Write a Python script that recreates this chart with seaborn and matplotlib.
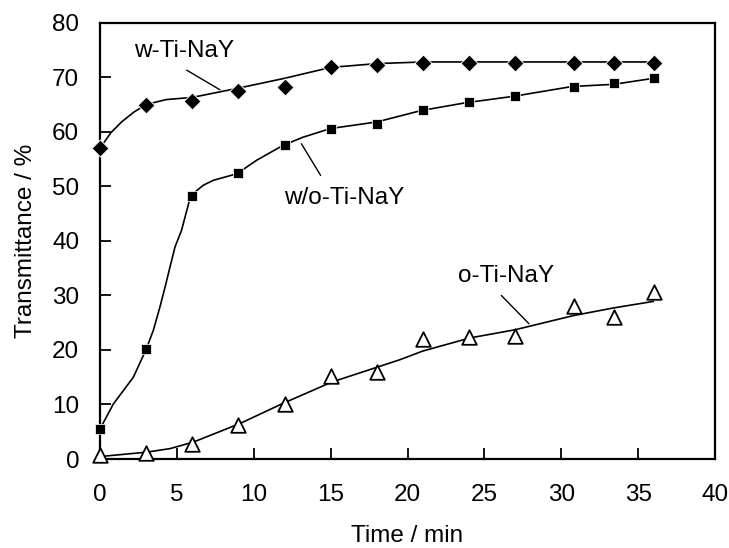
import matplotlib
matplotlib.use("Agg")
import matplotlib.pyplot as plt
import seaborn as sns
import pandas as pd

# measured points
tiempo = [0, 3, 6, 9, 12, 15, 18, 21, 24, 27, 30.8, 33.4, 36]
w_ti = [57.0, 65.0, 65.6, 67.4, 68.3, 71.8, 72.3, 72.7, 72.7, 72.7, 72.7, 72.7, 72.7]
wo_ti = [5.5, 20.1, 48.3, 52.4, 57.6, 60.5, 61.4, 64.0, 65.4, 66.6, 68.3, 69.0, 69.8]
o_ti = [0.7, 1.1, 2.8, 6.3, 10.0, 15.3, 15.9, 22.0, 22.3, 22.5, 28.0, 26.0, 30.7]

# fitted curves
curva_w_x = [0, 0.7, 1.4, 2.2, 3.0, 4.3, 6.0, 9.0, 12.0, 15.0, 18.0, 21.0, 24.0, 27.0, 30.8, 33.4, 36.0]
curva_w_y = [57.0, 59.8, 61.8, 63.6, 65.0, 65.9, 66.3, 68.0, 69.8, 71.8, 72.5, 72.8, 72.8, 72.8, 72.8, 72.8, 72.8]
curva_wo_x = [0, 0.87, 2.17, 3.0, 3.47, 3.9, 4.23, 4.5, 4.88, 5.3, 5.9, 6.72, 7.37, 8.9,
              10.2, 11.9, 13.2, 15.0, 18.0, 20.9, 23.85, 26.9, 30.7, 33.4, 36.0]
curva_wo_y = [5.5, 10.1, 15.0, 20.1, 23.6, 27.9, 31.5, 34.6, 38.9, 41.9, 48.3, 50.2, 51.1, 52.3,
              54.8, 57.5, 59.0, 60.6, 61.8, 63.9, 65.35, 66.5, 68.3, 68.7, 69.8]
curva_o_x = [0, 3.03, 4.55, 6.07, 9.1, 11.9, 15.07, 19.5, 21.0, 24.07, 27.0, 30.8, 33.4, 36.0]
curva_o_y = [0.45, 1.25, 1.9, 3.1, 6.5, 10.2, 14.1, 18.2, 19.8, 22.2, 23.7, 26.3, 27.7, 28.9]

puntos = pd.DataFrame({
    "t": tiempo * 3,
    "T": w_ti + wo_ti + o_ti,
    "serie": ["w"] * len(tiempo) + ["wo"] * len(tiempo) + ["o"] * len(tiempo),
})
curvas = pd.DataFrame({
    "t": curva_w_x + curva_wo_x + curva_o_x,
    "T": curva_w_y + curva_wo_y + curva_o_y,
    "serie": ["w"] * len(curva_w_x) + ["wo"] * len(curva_wo_x) + ["o"] * len(curva_o_x),
})

sns.set_style("ticks")
plt.rcParams['font.family'] = ['Liberation Sans', 'DejaVu Sans']
plt.rcParams['font.size'] = 17.5
for k in ["text.color", "axes.labelcolor", "xtick.color", "ytick.color"]:
    plt.rcParams[k] = "black"

fig = plt.figure(figsize=(7.29, 5.48), dpi=100)
ax = fig.add_axes([100 / 729, 1 - 459 / 548, 615 / 729, 436.3 / 548])

for s in ["w", "wo", "o"]:
    sns.lineplot(data=curvas[curvas.serie == s], x="t", y="T", color="black",
                 linewidth=1.2, sort=False, estimator=None, ax=ax)

estilos = {
    "w": dict(marker="D", s=75, color="black"),
    "wo": dict(marker="s", s=45, color="black"),
    "o": dict(marker="^", s=110, facecolor="white", edgecolor="black", linewidth=1.3),
}
for s, kw in estilos.items():
    sns.scatterplot(data=puntos[puntos.serie == s], x="t", y="T", ax=ax, zorder=3,
                    clip_on=False, **kw)

# etiquetas con linea guia
ax.text(5.5, 74.8, "w-Ti-NaY", ha="center", va="center")
ax.plot([5.64, 7.8], [71.3, 67.7], color="black", linewidth=1)
ax.text(15.9, 47.9, "w/o-Ti-NaY", ha="center", va="center")
ax.plot([14.35, 13.1], [52.0, 57.8], color="black", linewidth=1)
ax.text(26.4, 33.6, "o-Ti-NaY", ha="center", va="center")
ax.plot([26.1, 27.9], [30.0, 24.8], color="black", linewidth=1)

ax.set_xlim(0, 40)
ax.set_ylim(0, 80)
ax.set_xticks(range(0, 41, 5))
ax.set_yticks(range(0, 81, 10))
ax.set_xlabel("Time / min", labelpad=14)
ax.set_ylabel("Transmittance / %", labelpad=11)
ax.tick_params(direction="in", length=8, width=1.3, labelsize=17.5)
ax.tick_params(axis="x", pad=18)
ax.tick_params(axis="y", pad=15)
for sp in ax.spines.values():
    sp.set_visible(True)
    sp.set_linewidth(1.6)
    sp.set_color("black")

fig.savefig("out.png", dpi=100)
